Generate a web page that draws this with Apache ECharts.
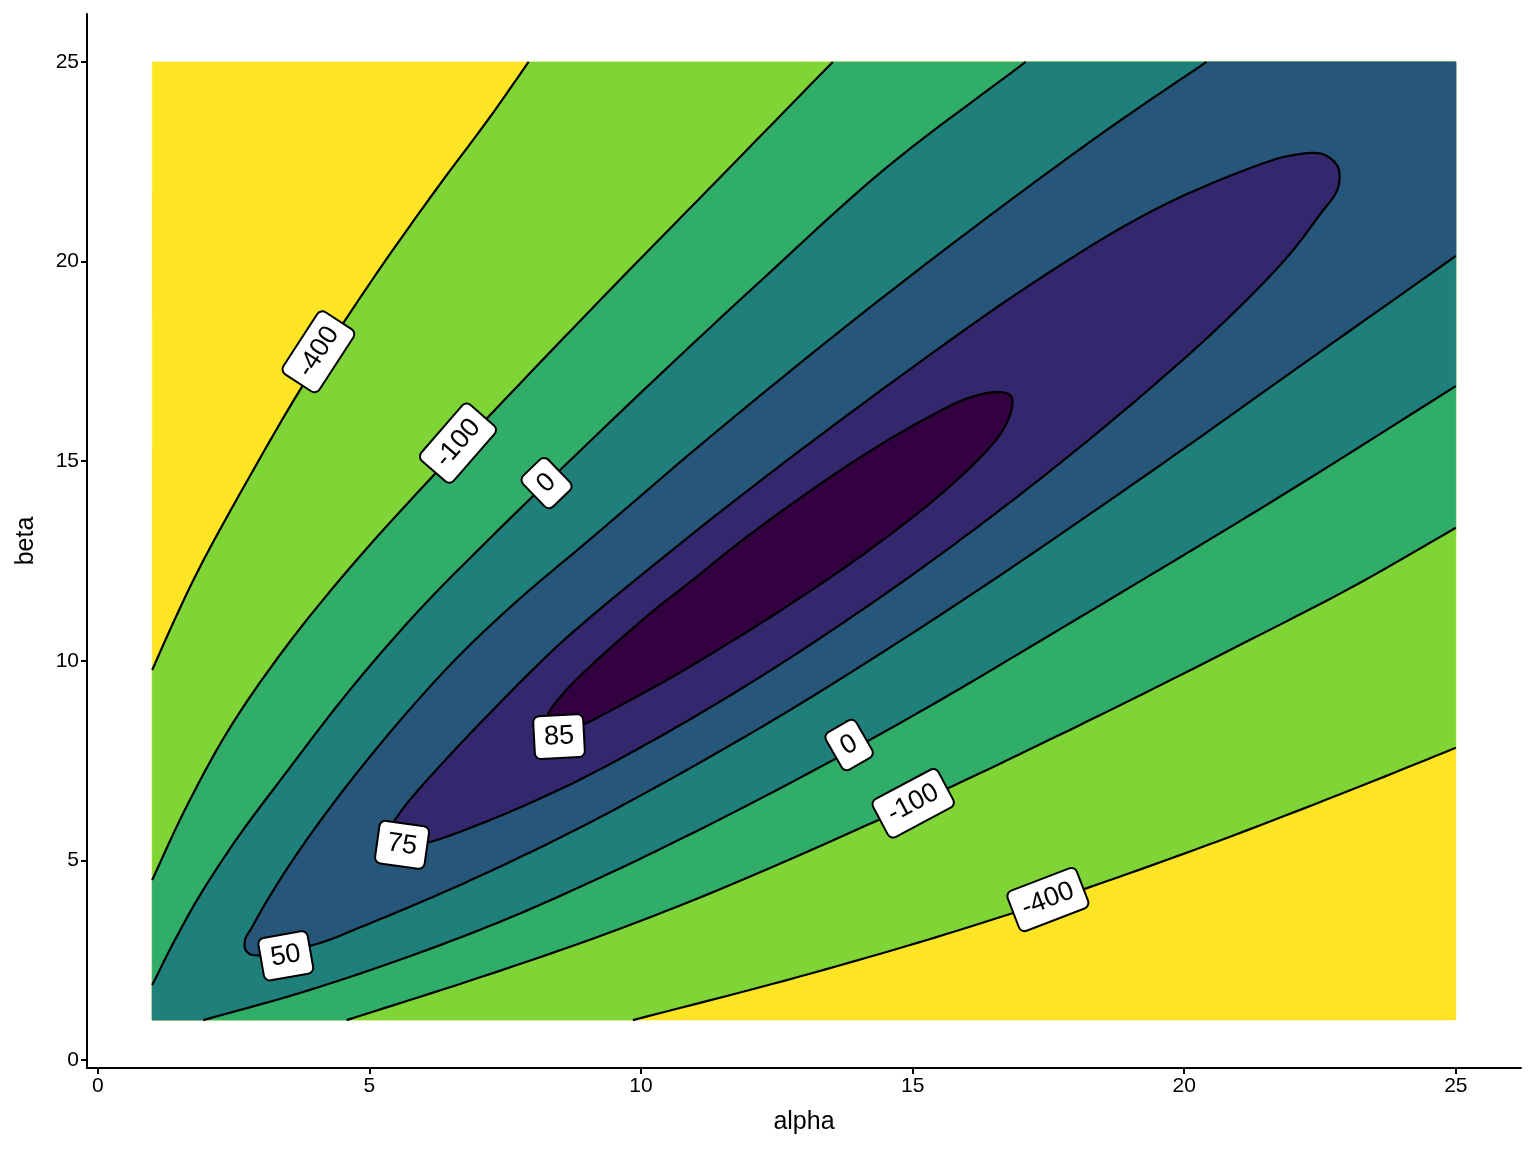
<!DOCTYPE html>
<html>
<head>
<meta charset="utf-8">
<script src="https://cdn.jsdelivr.net/npm/echarts@6/dist/echarts.min.js"></script>
<style>
  html, body { margin: 0; padding: 0; background: #fff; }
  #chart { width: 1536px; height: 1152px; }
</style>
</head>
<body>
<div id="chart"></div>
<script>
const alphaRange = [1, 25]
const betaRange = [1, 25]
const xTicks = [0, 5, 10, 15, 20, 25]
const yTicks = [0, 5, 10, 15, 20, 25]

// contour lines, each point is [alpha, beta]
const upper400 = [[1.0, 9.77], [1.42, 11.05], [1.88, 12.35], [2.80, 14.63], [3.72, 16.78], [4.64, 18.71], [5.38, 20.19], [6.30, 21.94], [7.22, 23.62], [7.93, 25]]
const lower400 = [[9.85, 1], [12.65, 1.99], [15.10, 2.94], [16.75, 3.64], [18.26, 4.33], [20.66, 5.50], [23.10, 6.78], [25, 7.82]]
const upper100 = [[1.0, 4.51], [1.60, 6.26], [2.43, 8.32], [3.53, 10.47], [4.82, 12.61], [6.30, 14.82], [7.77, 16.94], [9.43, 19.29], [11.45, 22.10], [13.53, 25]]
const lower100 = [[4.58, 1], [6.79, 1.96], [8.97, 2.97], [10.81, 3.92], [12.65, 4.97], [14.30, 5.97], [15.78, 6.89], [16.97, 7.66], [18.81, 8.88], [20.96, 10.35], [23.11, 11.86], [25, 13.33]]
const upper0 = [[1.0, 1.88], [1.42, 3.01], [1.88, 4.13], [2.61, 5.64], [3.35, 6.99], [4.64, 9.27], [5.93, 11.29], [7.22, 13.07], [8.97, 15.38], [10.53, 17.40], [12.19, 19.50], [14.49, 22.32], [17.08, 25]]
const lower0 = [[1.94, 1], [3.72, 1.68], [5.56, 2.51], [7.40, 3.46], [9.06, 4.45], [10.81, 5.59], [12.65, 6.87], [14.40, 8.16], [15.87, 9.30], [16.97, 10.19], [18.94, 11.79], [20.53, 13.09], [22.13, 14.42], [25, 16.88]]
const curve50 = [[20.41, 25], [18.81, 23.52], [17.07, 21.81], [14.40, 19.05], [12.19, 16.64], [10.81, 15.08], [9.06, 13.04], [7.77, 11.56], [6.66, 10.14], [5.74, 8.78], [4.82, 7.28], [4.09, 5.98], [3.53, 4.89], [3.07, 3.89], [2.84, 3.33], [2.71, 3.01], [2.72, 2.76], [2.85, 2.63], [3.96, 2.88], [4.95, 3.39], [6.48, 4.27], [7.71, 5.04], [9.06, 5.95], [10.81, 7.24], [12.65, 8.69], [14.49, 10.25], [15.87, 11.47], [16.97, 12.47], [19.55, 14.89], [22.13, 17.38], [25, 20.14]]
const ring75 = [[22.86, 22.17], [22.81, 22.42], [22.59, 22.67], [22.37, 22.72], [21.94, 22.65], [21.58, 22.52], [20.05, 21.69], [18.81, 20.82], [16.97, 19.24], [15.10, 17.45], [12.65, 14.98], [10.81, 13.03], [8.97, 10.98], [8.32, 10.19], [7.09, 8.51], [5.98, 6.89], [5.56, 6.19], [5.38, 5.76], [5.43, 5.46], [5.65, 5.36], [6.11, 5.46], [7.09, 5.94], [8.01, 6.47], [9.06, 7.15], [10.81, 8.46], [12.65, 9.99], [14.49, 11.67], [15.87, 13.02], [17.07, 14.26], [18.32, 15.62], [19.42, 16.88], [20.66, 18.39], [21.89, 20.10], [22.50, 21.18], [22.81, 21.77]]
const ring85 = [[16.84, 16.49], [16.79, 16.66], [16.55, 16.73], [16.02, 16.58], [15.10, 15.96], [13.88, 14.96], [12.04, 13.20], [10.90, 11.97], [10.20, 11.22], [8.97, 9.74], [8.51, 9.09], [8.28, 8.64], [8.23, 8.27], [8.41, 8.07], [8.97, 8.42], [10.20, 9.31], [10.81, 9.78], [12.65, 11.33], [14.40, 12.97], [15.72, 14.41], [16.51, 15.49], [16.75, 16.01]]

// fill colours from the outside (lowest) level to the peak
const levelColors = ['#FDE525', '#7FD436', '#31AD6A', '#1F7F7A', '#26567A', '#34276E', '#330040']

// contour labels
const labelText = ['-400', '-100', '0', '85', '75', '50', '0', '-100', '-400']
const labelAlpha = [4.06, 6.63, 8.26, 8.49, 5.60, 3.46, 13.83, 15.01, 17.49]
const labelBeta = [17.74, 15.45, 14.45, 8.10, 5.39, 2.61, 7.89, 6.43, 4.02]
const labelAngle = [57, 49, 44, 3, -8, 10, 30, 28, 21]

const bottomLeft = [alphaRange[0], betaRange[0]]
const bottomRight = [alphaRange[1], betaRange[0]]
const topRight = [alphaRange[1], betaRange[1]]
const topLeft = [alphaRange[0], betaRange[1]]
const rev = arr => arr.slice().reverse()

const fills = [
  [{ pts: [bottomLeft, bottomRight, topRight, topLeft] }],
  [{ pts: upper400, curve: true }, { pts: [topRight] }, { pts: rev(lower400), curve: true }, { pts: [bottomLeft] }],
  [{ pts: upper100, curve: true }, { pts: [topRight] }, { pts: rev(lower100), curve: true }, { pts: [bottomLeft] }],
  [{ pts: upper0, curve: true }, { pts: [topRight] }, { pts: rev(lower0), curve: true }, { pts: [bottomLeft] }],
  [{ pts: curve50, curve: true }, { pts: [topRight] }],
  [{ pts: ring75, curve: true, closed: true }],
  [{ pts: ring85, curve: true, closed: true }]
]

const strokes = [
  { pts: upper400 }, { pts: lower400 },
  { pts: upper100 }, { pts: lower100 },
  { pts: upper0 }, { pts: lower0 },
  { pts: curve50 },
  { pts: ring75, closed: true },
  { pts: ring85, closed: true }
]

// centripetal catmull-rom through the read points, in pixel space
function smoothPx(px, closed) {
  const n = px.length
  const get = i => {
    if (closed) return px[(i + n) % n]
    if (i < 0) return [2 * px[0][0] - px[1][0], 2 * px[0][1] - px[1][1]]
    if (i >= n) return [2 * px[n - 1][0] - px[n - 2][0], 2 * px[n - 1][1] - px[n - 2][1]]
    return px[i]
  }
  const tj = (a, b) => Math.max(Math.pow(Math.hypot(b[0] - a[0], b[1] - a[1]), 0.5), 1e-4)
  const out = []
  const segs = closed ? n : n - 1
  for (let i = 0; i < segs; i++) {
    const p0 = get(i - 1), p1 = get(i), p2 = get(i + 1), p3 = get(i + 2)
    const t0 = 0, t1 = t0 + tj(p0, p1), t2 = t1 + tj(p1, p2), t3 = t2 + tj(p2, p3)
    const steps = 10
    for (let s = 0; s < steps; s++) {
      const t = t1 + (t2 - t1) * s / steps
      const lerp = (a, b, ta, tb) => [
        (tb - t) / (tb - ta) * a[0] + (t - ta) / (tb - ta) * b[0],
        (tb - t) / (tb - ta) * a[1] + (t - ta) / (tb - ta) * b[1]
      ]
      const a1 = lerp(p0, p1, t0, t1)
      const a2 = lerp(p1, p2, t1, t2)
      const a3 = lerp(p2, p3, t2, t3)
      const b1 = lerp(a1, a2, t0, t2)
      const b2 = lerp(a2, a3, t1, t3)
      out.push(lerp(b1, b2, t1, t2))
    }
  }
  if (!closed) out.push(px[n - 1])
  return out
}

function piecePx(api, piece) {
  const px = piece.pts.map(p => api.coord(p))
  return piece.curve ? smoothPx(px, !!piece.closed) : px
}

const chart = echarts.init(document.getElementById('chart'), null, { renderer: 'canvas' })

const fontFamily = '"Liberation Sans", Arial, Helvetica, sans-serif'

const option = {
  backgroundColor: '#fff',
  animation: false,
  grid: { left: 87, right: 15, top: 14, bottom: 84 },
  xAxis: {
    type: 'value',
    min: -0.2,
    max: 26.2,
    name: 'alpha',
    nameLocation: 'middle',
    nameGap: 42,
    nameTextStyle: { color: '#000', fontSize: 25, fontFamily },
    axisLine: { onZero: false, lineStyle: { color: '#000', width: 2 } },
    axisTick: { customValues: xTicks, length: 6, lineStyle: { color: '#000', width: 2 } },
    axisLabel: { customValues: xTicks, color: '#000', fontSize: 21, fontFamily, margin: 8 },
    splitLine: { show: false }
  },
  yAxis: {
    type: 'value',
    min: -0.2,
    max: 26.2,
    name: 'beta',
    nameLocation: 'middle',
    nameGap: 48,
    nameTextStyle: { color: '#000', fontSize: 25, fontFamily },
    axisLine: { onZero: false, lineStyle: { color: '#000', width: 2 } },
    axisTick: { customValues: yTicks, length: 6, lineStyle: { color: '#000', width: 2 } },
    axisLabel: { customValues: yTicks, color: '#000', fontSize: 21, fontFamily, margin: 8 },
    splitLine: { show: false }
  },
  series: [
    {
      type: 'custom',
      name: 'fills',
      silent: true,
      z: 2,
      data: fills.map(() => [13, 13]),
      renderItem(params, api) {
        const parts = fills[params.dataIndex]
        let points = []
        parts.forEach(piece => { points = points.concat(piecePx(api, piece)) })
        return {
          type: 'polygon',
          z2: params.dataIndex,
          shape: { points },
          style: { fill: levelColors[params.dataIndex], stroke: levelColors[params.dataIndex], lineWidth: 0.5 }
        }
      }
    },
    {
      type: 'custom',
      name: 'lines',
      silent: true,
      z: 3,
      data: strokes.map(() => [13, 13]),
      renderItem(params, api) {
        const s = strokes[params.dataIndex]
        let points = smoothPx(s.pts.map(p => api.coord(p)), !!s.closed)
        if (s.closed) points = points.concat([points[0]])
        return {
          type: 'polyline',
          shape: { points },
          style: { fill: null, stroke: '#000', lineWidth: 2.2, lineJoin: 'round' }
        }
      }
    },
    {
      type: 'custom',
      name: 'labels',
      silent: true,
      z: 5,
      data: labelText.map((t, i) => [labelAlpha[i], labelBeta[i]]),
      renderItem(params, api) {
        const i = params.dataIndex
        const p = api.coord([labelAlpha[i], labelBeta[i]])
        return {
          type: 'text',
          x: p[0],
          y: p[1],
          rotation: labelAngle[i] * Math.PI / 180,
          style: {
            text: labelText[i],
            x: 0,
            y: 0,
            align: 'center',
            verticalAlign: 'middle',
            fontSize: 27,
            fontFamily,
            fill: '#000',
            backgroundColor: '#fff',
            borderColor: '#000',
            borderWidth: 2,
            borderRadius: 5,
            padding: [7, 9, 7, 9]
          }
        }
      }
    }
  ]
}

chart.setOption(option)
</script>
</body>
</html>
